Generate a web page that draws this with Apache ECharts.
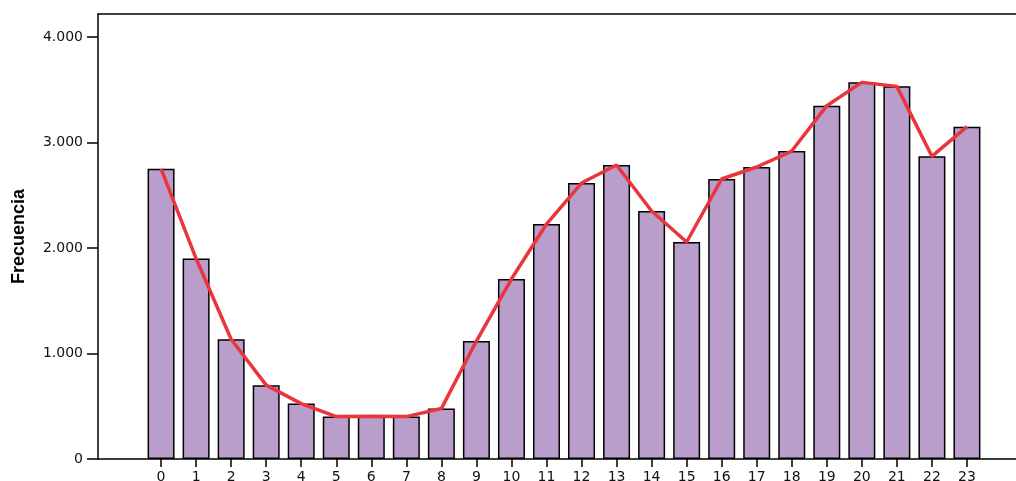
<!DOCTYPE html>
<html>
<head>
<meta charset="utf-8">
<script src="https://cdn.jsdelivr.net/npm/echarts@6/dist/echarts.min.js"></script>
<style>
  html, body { margin: 0; padding: 0; background: #fff; }
  #chart { width: 1016px; height: 481px; }
</style>
</head>
<body>
<div id="chart"></div>
<script>
// horas del día y frecuencia de cada una
const hours = [0, 1, 2, 3, 4, 5, 6, 7, 8, 9, 10, 11, 12, 13, 14, 15, 16, 17, 18, 19, 20, 21, 22, 23];
const freq = [2750, 1900, 1135, 700, 525, 402, 405, 402, 478, 1118, 1706, 2227, 2616, 2787, 2351, 2057,
  2654, 2768, 2919, 3349, 3570, 3532, 2869, 3150];
const yTicks = [0, 1000, 2000, 3000, 4000];

const points = hours.map((h, i) => [h, freq[i]]);

const fmtMiles = v => String(v).replace(/\B(?=(\d{3})+(?!\d))/g, ".");

const myChart = echarts.init(document.getElementById("chart"));

const option = {
  animation: false,
  grid: { left: 98, right: 0, top: 14, bottom: 22, outerBoundsMode: "none", containLabel: false },
  xAxis: [
    {
      type: "value",
      min: -1.8,
      max: 24.4,
      splitLine: { show: false },
      axisLine: { show: true, onZero: false, lineStyle: { color: "#000", width: 1.5 } },
      axisTick: { show: true, length: 8, customValues: hours, lineStyle: { color: "#000", width: 1.5 } },
      axisLabel: {
        customValues: hours,
        margin: 11,
        color: "#111",
        fontFamily: "DejaVu Sans",
        fontSize: 14
      }
    },
    {
      type: "value",
      position: "top",
      min: -1.8,
      max: 24.4,
      splitLine: { show: false },
      axisLine: { show: true, onZero: false, lineStyle: { color: "#000", width: 1.5 } },
      axisTick: { show: false },
      axisLabel: { show: false }
    }
  ],
  yAxis: {
    type: "value",
    min: 0,
    max: 4218,
    name: "Frecuencia",
    nameLocation: "middle",
    nameGap: 70,
    nameTextStyle: {
      fontFamily: "Liberation Sans",
      fontWeight: "bold",
      fontSize: 18,
      color: "#000"
    },
    splitLine: { show: false },
    axisLine: { show: true, onZero: false, lineStyle: { color: "#000", width: 1.5 } },
    axisTick: { show: true, length: 11, customValues: yTicks, lineStyle: { color: "#000", width: 1.5 } },
    axisLabel: {
      customValues: yTicks,
      margin: 15,
      color: "#111",
      fontFamily: "DejaVu Sans",
      fontSize: 14,
      formatter: v => fmtMiles(v)
    }
  },
  series: [
    {
      type: "bar",
      data: points,
      barWidth: 27,
      itemStyle: { color: "#b99dca", borderColor: "#000", borderWidth: 1.5 }
    },
    {
      type: "line",
      data: points,
      symbol: "none",
      lineStyle: { color: "#ea353d", width: 3.5 },
      z: 5
    }
  ]
};

option && myChart.setOption(option);
</script>
</body>
</html>
